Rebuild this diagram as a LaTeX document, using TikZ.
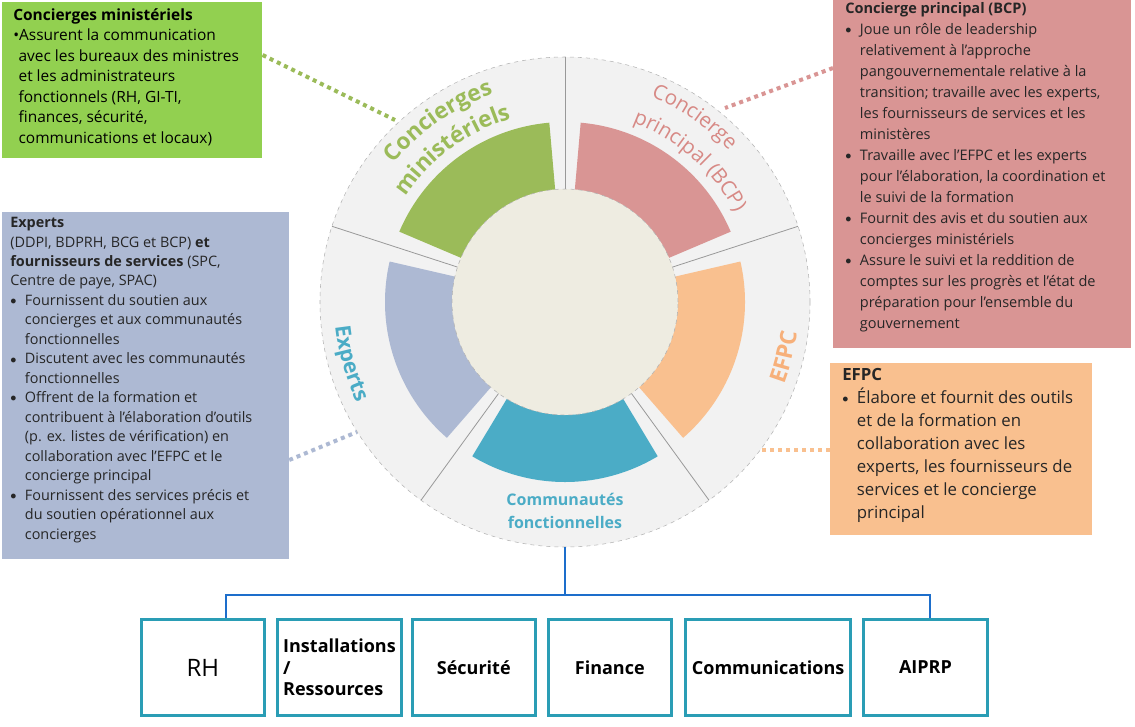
\documentclass[tikz,border=0pt]{standalone}
\usepackage{fontspec}
\setmainfont{Open Sans}
\usetikzlibrary{decorations.text}
\definecolor{cgreen}{HTML}{92D050}
\definecolor{cgreenD}{HTML}{9BBB59}
\definecolor{cred}{HTML}{D99594}
\definecolor{credT}{HTML}{D78985}
\definecolor{cblue}{HTML}{ADB9D3}
\definecolor{corange}{HTML}{F9C08F}
\definecolor{corangeT}{HTML}{F7B07A}
\definecolor{cteal}{HTML}{4BACC6}
\definecolor{cborder}{HTML}{2A9DB5}
\definecolor{ring}{HTML}{F2F2F2}
\definecolor{hub}{HTML}{EEECE1}
\definecolor{txt}{HTML}{262626}
\newcommand{\bl}{\makebox[11pt][l]{\raisebox{0.1ex}{\small$\bullet$}}}
\newcommand{\hi}{\hspace*{11pt}}
\begin{document}
\begin{tikzpicture}[x=0.75pt,y=0.75pt,
  itext/.style={anchor=north west,align=left,inner sep=0pt,text=txt},
  dotc/.style={line width=3pt,dash pattern=on 3pt off 3pt},
  sep/.style={draw=gray!80,line width=0.6pt},
  fbox/.style={draw=cborder,line width=2.2pt,fill=white,minimum width=#1,minimum height=72pt,anchor=north west,font=\bfseries\fontsize{13.5}{16}\selectfont,text=black},
  ring txt/.style={decorate,decoration={text along path,text align=center,text={#1}}},
  cline/.style={draw=cborder!70!blue,line width=0.8pt}]
\useasboundingbox (0,0) rectangle (1135,-726);
% circle
\begin{scope}[shift={(565,-302)}]
\coordinate (c) at (0,0);
\fill[ring] (0,0) circle[radius=245];
\draw[gray!60,dashed,line width=0.4pt] (0,0) circle[radius=245];
\foreach \a in {90,18,-54,-126,162} \draw[sep] (\a:113) -- (\a:245);
\foreach \a/\b/\col in {95/157/cgreenD, 23/85/cred, -49/13/corange, -121/-59/cteal, 167/229/cblue}
  \fill[\col] (\a:180) arc[start angle=\a,end angle=\b,radius=180] -- (\b:110) arc[start angle=\b,end angle=\a,radius=110] -- cycle;
\fill[hub] (0,0) circle[radius=113];
\draw[gray!60,dashed,line width=0.4pt] (0,0) circle[radius=113];
\path[ring txt={|\bfseries\fontsize{17}{17}\selectfont\color{cgreenD}|Concierges}] (155:220) arc[start angle=155,end angle=95,radius=220];
\path[ring txt={|\bfseries\fontsize{17}{17}\selectfont\color{cgreenD}|ministériels}] (158:191) arc[start angle=158,end angle=95,radius=191];
\path[ring txt={|\fontsize{15.5}{15.5}\selectfont\color{credT}|Concierge}] (80:223) arc[start angle=80,end angle=30,radius=223];
\path[ring txt={|\fontsize{15.5}{15.5}\selectfont\color{credT}|principal (BCP)}] (87:192) arc[start angle=87,end angle=10,radius=192];
\path[ring txt={|\bfseries\fontsize{17}{17}\selectfont\color{corangeT}|EFPC}] (-40:234) arc[start angle=-40,end angle=12,radius=234];
\path[ring txt={|\bfseries\fontsize{16}{16}\selectfont\color{cteal}|Experts}] (166:231) arc[start angle=166,end angle=226,radius=231];
\node[font=\bfseries\fontsize{12}{17}\selectfont,text=cteal,align=center] (cf) at (0,-209) {Communautés\\fonctionnelles};
\coordinate (pg) at (-170,182);
\coordinate (pr) at (160,194);
\coordinate (pb) at (-208,-130);
\coordinate (po) at (195,-148);
\coordinate (pbot) at (0,-245);
\end{scope}
% green box
\node[fill=cgreen,minimum width=195pt,minimum height=117pt,anchor=north west,inner sep=0pt] (gbox) at (2,-2) {};
\node[itext,text=black,font=\fontsize{11.6}{15.4}\selectfont] (gt) at (13,-8) {\textbf{Concierges ministériels}\\
•Assurent la communication\\\hspace*{4pt}avec les bureaux des ministres\\\hspace*{4pt}et les administrateurs\\\hspace*{4pt}fonctionnels (RH, GI-TI,\\\hspace*{4pt}finances, sécurité,\\\hspace*{4pt}communications et locaux)};
% red box
\node[fill=cred,minimum width=223pt,minimum height=261pt,anchor=north west,inner sep=0pt] (rbox) at (833,0) {};
\node[itext,font=\fontsize{10.9}{15.75}\selectfont] (rt) at (845,-2) {\textbf{Concierge principal (BCP)}\\
\bl Joue un rôle de leadership\\\hi relativement à l’approche\\\hi pangouvernementale relative à la\\\hi transition; travaille avec les experts,\\\hi les fournisseurs de services et les\\\hi ministères\\
\bl Travaille avec l’EFPC et les experts\\\hi pour l’élaboration, la coordination et\\\hi le suivi de la formation\\
\bl Fournit des avis et du soutien aux\\\hi concierges ministériels\\
\bl Assure le suivi et la reddition de\\\hi comptes sur les progrès et l’état de\\\hi préparation pour l’ensemble du\\\hi gouvernement};
% blue box
\node[fill=cblue,minimum width=215pt,minimum height=260pt,anchor=north west,inner sep=0pt] (bbox) at (2,-212) {};
\node[itext,font=\fontsize{10.8}{14.6}\selectfont] (bt) at (10,-217) {\textbf{Experts}\\
(DDPI, BDPRH, BCG et BCP) \textbf{et}\\\textbf{fournisseurs de services} (SPC,\\Centre de paye, SPAC)\\
\bl Fournissent du soutien aux\\\hi concierges et aux communautés\\\hi fonctionnelles\\
\bl Discutent avec les communautés\\\hi fonctionnelles\\
\bl Offrent de la formation et\\\hi contribuent à l’élaboration d’outils\\\hi (p. ex. listes de vérification) en\\\hi collaboration avec l’EFPC et le\\\hi concierge principal\\
\bl Fournissent des services précis et\\\hi du soutien opérationnel aux\\\hi concierges};
% orange box
\node[fill=corange,minimum width=196pt,minimum height=129pt,anchor=north west,inner sep=0pt] (obox) at (830,-363) {};
\node[itext,font=\fontsize{12.6}{17.25}\selectfont] (ot) at (842,-368) {\textbf{EFPC}\\
\bl Élabore et fournit des outils\\\hi et de la formation en\\\hi collaboration avec les\\\hi experts, les fournisseurs de\\\hi services et le concierge\\\hi principal};
% dotted connectors
\draw[dotc,draw=cgreenD] (gbox.east |- 0,-55) -- (pg);
\draw[dotc,draw=cred] (rbox.west |- 0,-68) -- (pr);
\draw[dotc,draw=cblue] (bbox.east |- 0,-460) -- (pb);
\draw[dotc,draw=corange] (obox.west |- 0,-450) -- (po);
% bottom boxes
\node[fbox=92pt] (rh) at (140,-618) {\mdseries\fontsize{18}{18}\selectfont RH};
\node[fbox=93pt,align=left,inner sep=2pt] (inst) at (276,-618) {Installations\\/\\Ressources};
\node[fbox=92pt] (secu) at (411,-618) {Sécurité};
\node[fbox=92pt] (fin) at (547,-618) {Finance};
\node[fbox=124pt] (com) at (684,-618) {Communications};
\node[fbox=93pt] (aip) at (862,-618) {AIPRP};
\coordinate (hl) at (226,-595);
\coordinate (hr) at (930,-595);
\draw[cline] (pbot) -- (565,-595);
\draw[cline] (rh.north -| hl) -- (hl) -- (hr) -- (aip.north -| hr);
\end{tikzpicture}
\end{document}
